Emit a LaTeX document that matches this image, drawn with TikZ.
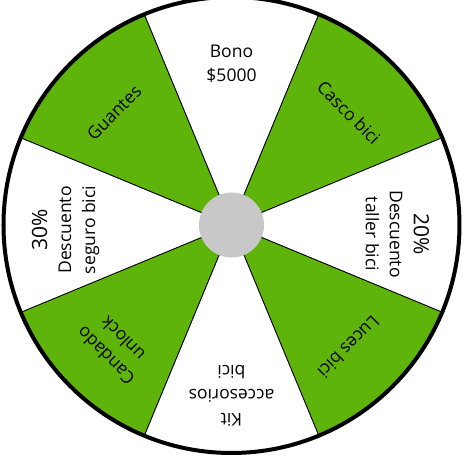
\documentclass[tikz,border=0pt]{standalone}
\usepackage{fontspec}
\setmainfont{Open Sans}
\usepackage{tikz}

\definecolor{wheelgreen}{RGB}{94,180,11}
\definecolor{hubgray}{RGB}{200,200,200}

\begin{document}
\begin{tikzpicture}[
    x=1pt, y=1pt,
    slice/.style={draw=black, line width=0.8pt},
    win/.style={slice, fill=wheelgreen},
    blank/.style={slice, fill=white},
    rim/.style={draw=black, line width=4pt},
    hub/.style={circle, fill=hubgray, minimum size=65pt, inner sep=0pt},
    prize/.style={align=center, inner sep=0pt,
                  font=\fontsize{17.5}{24}\selectfont},
]
\useasboundingbox (-231.5,-235) rectangle (232.5,225);

% slices of the wheel
\draw[blank] (0,0) -- (67.5:228) arc[start angle=67.5, end angle=112.5, radius=228] -- cycle;
\draw[win] (0,0) -- (22.5:228) arc[start angle=22.5, end angle=67.5, radius=228] -- cycle;
\draw[blank] (0,0) -- (-22.5:228) arc[start angle=-22.5, end angle=22.5, radius=228] -- cycle;
\draw[win] (0,0) -- (-67.5:228) arc[start angle=-67.5, end angle=-22.5, radius=228] -- cycle;
\draw[blank] (0,0) -- (-112.5:228) arc[start angle=-112.5, end angle=-67.5, radius=228] -- cycle;
\draw[win] (0,0) -- (-157.5:228) arc[start angle=-157.5, end angle=-112.5, radius=228] -- cycle;
\draw[blank] (0,0) -- (157.5:228) arc[start angle=157.5, end angle=202.5, radius=228] -- cycle;
\draw[win] (0,0) -- (112.5:228) arc[start angle=112.5, end angle=157.5, radius=228] -- cycle;
\draw[rim] (0,0) circle[radius=228];

\node[hub] (hub) at (0,0) {};

% prizes
\begin{scope}[yshift=-5pt]
\node[prize] (bono) at (90:166) {Bono\\\$5000};
\node[prize, rotate=-45] (casco) at (45:166) {Casco bici};
\node[prize, rotate=-90] (taller) at ([yshift=-4pt]0:166) {{\fontsize{21}{24}\selectfont 20\%}\\Descuento\\taller bici};
\node[prize, rotate=-135] (luces) at (-45:166) {Luces bici};
\node[prize, rotate=180] (kit) at (-90:166) {Kit\\accesorios\\bici};
\node[prize, rotate=135] (candado) at (-135:166) {Candado\\unlock};
\node[prize, rotate=90] (seguro) at (180:166) {{\fontsize{21}{24}\selectfont 30\%}\\Descuento\\seguro bici};
\node[prize, rotate=45] (guantes) at (135:166) {Guantes};
\end{scope}
\end{tikzpicture}
\end{document}
